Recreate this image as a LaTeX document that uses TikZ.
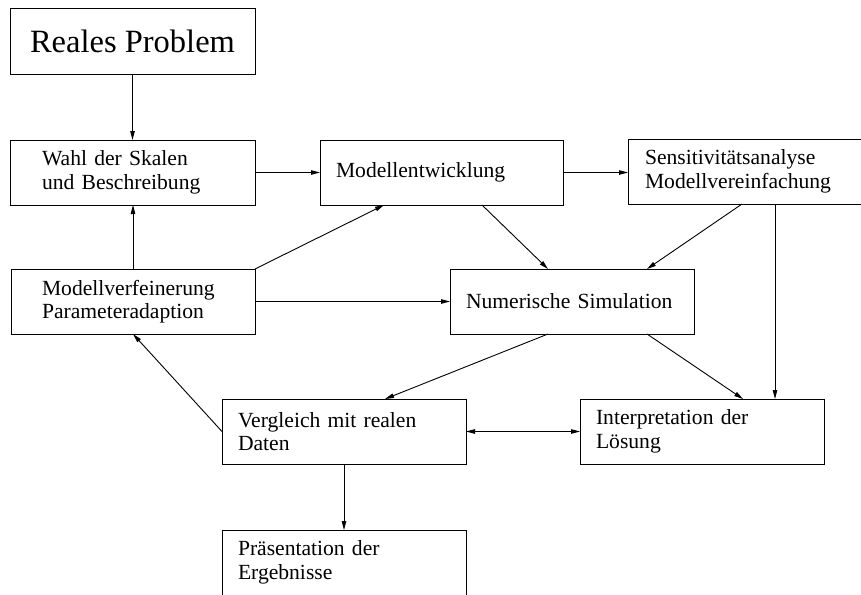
\documentclass[tikz,border=0pt]{standalone}
\usepackage{fontspec}
\setmainfont{Liberation Serif}
\usetikzlibrary{arrows.meta, calc}

\begin{document}
\begin{tikzpicture}[
    x=1pt, y=-1pt,
    >={Triangle[length=9pt, width=4.5pt]},
    box/.style={rectangle, draw, line width=1pt, anchor=north west, align=left, outer sep=0pt, inner ysep=0pt, minimum height=65pt, font=\fontsize{21.6}{23.5}\selectfont},
    arrow/.style={->, line width=0.9pt}
]
\clip (0,0) rectangle (861,594);

\node[box, minimum width=245pt, inner xsep=0pt, font=\fontsize{32.5}{36}\selectfont] (problem) at (10,9) {Reales Problem};
\node[box, text width=181pt, inner xsep=32pt] (skalen) at (10,140) {Wahl der Skalen\\und Beschreibung};
\node[box, text width=211pt, inner xsep=16pt] (modell) at (320,140) {Modellentwicklung};
\node[box, text width=220pt, inner xsep=17pt] (sensi) at (628,139) {Sensitivitätsanalyse\\Modellvereinfachung};
\node[box, text width=182pt, inner xsep=31pt] (verfein) at (11,269) {Modellverfeinerung\\Parameteradaption};
\node[box, text width=212pt, inner xsep=16pt] (numsim) at (450,269) {Numerische Simulation};
\node[box, text width=212pt, inner xsep=16pt] (vergl) at (222,399) {Vergleich mit realen\\Daten};
\node[box, text width=212pt, inner xsep=16pt] (interp) at (580,399) {Interpretation der\\Lösung};
\node[box, text width=212pt, inner xsep=16pt] (praes) at (222,530) {Präsentation der\\Ergebnisse};

\draw[arrow] (problem) -- (skalen);
\draw[arrow] (skalen) -- (modell);
\draw[arrow] (modell.east) -- (modell.east -| sensi.west);
\draw[arrow] (verfein.north) -- (verfein.north |- skalen.south);
\draw[arrow] (verfein.north east) -- ($(modell.south west)+(64,0)$);
\draw[arrow] (verfein.east) -- (verfein.east -| numsim.west);
\draw[arrow] ($(modell.south west)+(162,0)$) -- ($(numsim.north west)+(98,0)$);
\draw[arrow] ($(sensi.south west)+(114,0)$) -- ($(numsim.north west)+(197,0)$);
\draw[arrow] ($(sensi.south west)+(147,0)$) -- ($(interp.north west)+(195,0)$);
\draw[arrow] ($(numsim.south west)+(197,0)$) -- ($(interp.north west)+(163,0)$);
\draw[arrow] ($(numsim.south west)+(98,0)$) -- ($(vergl.north west)+(163,0)$);
\draw[arrow] (vergl.west) -- (verfein.south);
\draw[arrow, <->] (vergl.east) -- (interp.west);
\draw[arrow] (vergl) -- (praes);

\end{tikzpicture}
\end{document}
